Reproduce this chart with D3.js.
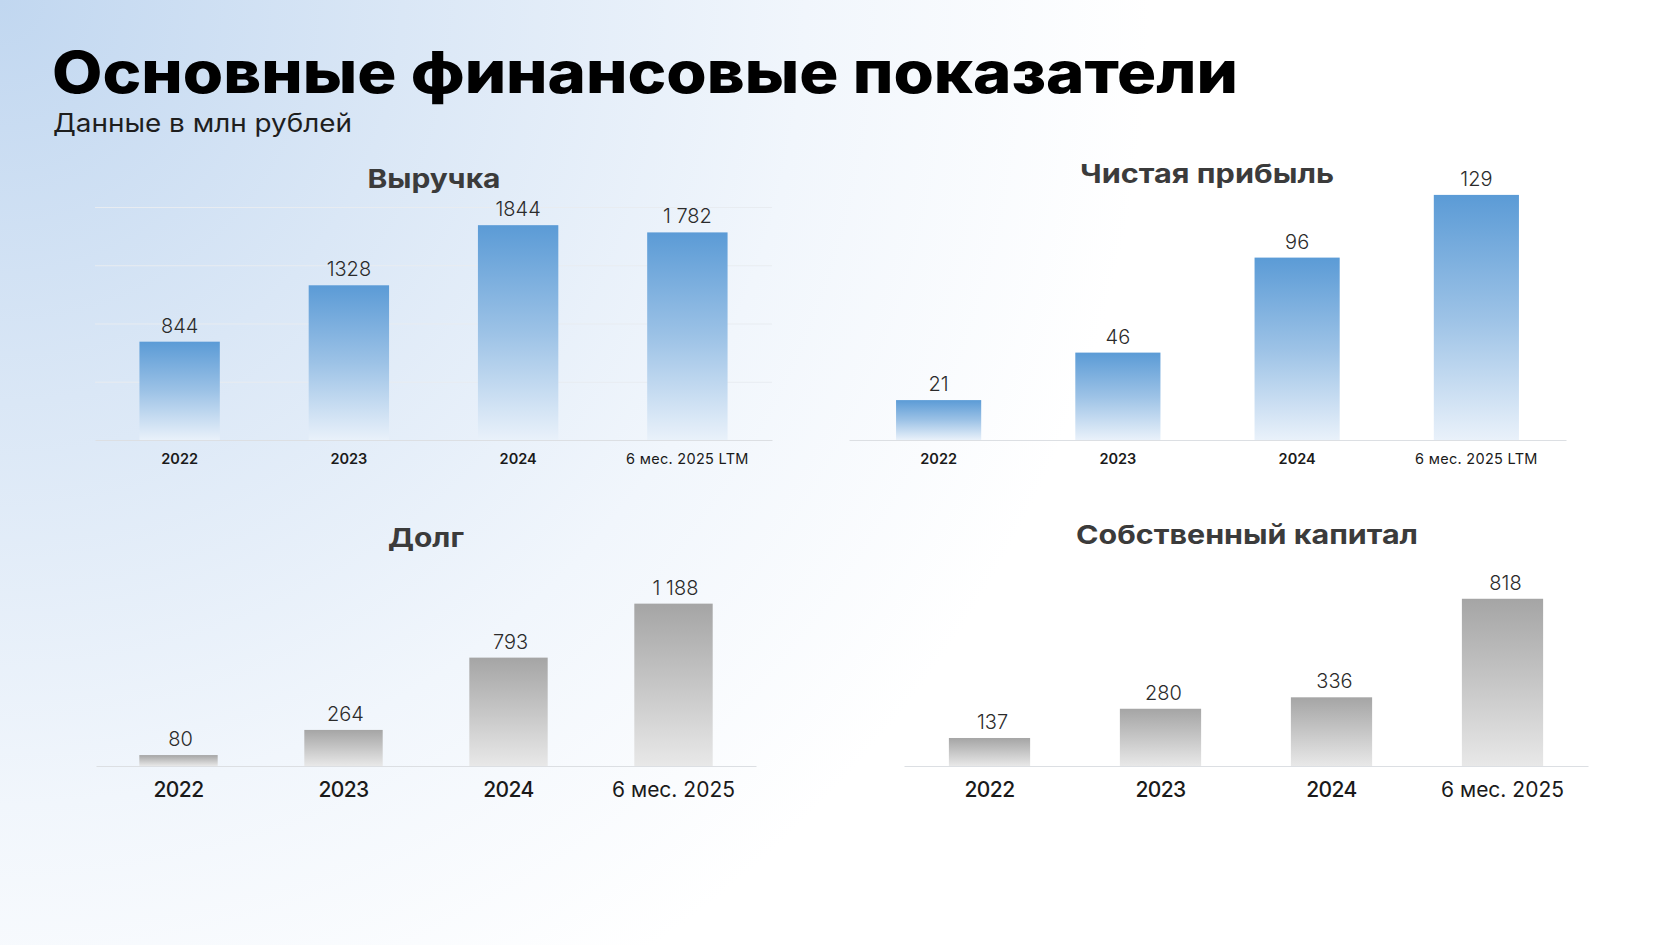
<!DOCTYPE html>
<html lang="ru">
<head>
<meta charset="utf-8">
<title>Основные финансовые показатели</title>
<script src="https://cdn.jsdelivr.net/npm/d3@7"></script>
<style>
  html, body { margin: 0; padding: 0; background: #fff; }
  svg { display: block; font-family: Inter, "Noto Sans", sans-serif; }
</style>
</head>
<body>
<div id="chart"></div>
<script>
// ==============================
// data (млн рублей)
// ==============================
var categoriesTop = ["2022", "2023", "2024", "6 мес. 2025 LTM"];
var categoriesBottom = ["2022", "2023", "2024", "6 мес. 2025"];

var revenue = [844, 1328, 1844, 1782];
var revenueLabels = ["844", "1328", "1844", "1 782"];

var netProfit = [21, 46, 96, 129];
var netProfitLabels = ["21", "46", "96", "129"];

var debt = [80, 264, 793, 1188];
var debtLabels = ["80", "264", "793", "1 188"];

var equity = [137, 280, 336, 818];
var equityLabels = ["137", "280", "336", "818"];

var revenueTicks = [0, 500, 1000, 1500, 2000];

// ==============================
// layout
// ==============================
var svgWidth = 1680;
var svgHeight = 945;

var svg = d3.select("#chart")
  .append("svg")
  .attr("width", svgWidth)
  .attr("height", svgHeight);

var defs = svg.append("defs");

// page background: light blue from the top-left corner
var bg = defs.append("radialGradient")
  .attr("id", "bg")
  .attr("gradientUnits", "userSpaceOnUse")
  .attr("cx", 0).attr("cy", 0).attr("r", 1150);
bg.append("stop").attr("offset", "0").attr("stop-color", "#c1d7f0");
bg.append("stop").attr("offset", "0.35").attr("stop-color", "#dae7f6");
bg.append("stop").attr("offset", "0.7").attr("stop-color", "#f1f6fc");
bg.append("stop").attr("offset", "1").attr("stop-color", "#ffffff");

function barGradient(id, top, mid, bottom) {
  var g = defs.append("linearGradient")
    .attr("id", id)
    .attr("x1", 0).attr("y1", 0).attr("x2", 0).attr("y2", 1);
  g.append("stop").attr("offset", "0").attr("stop-color", top);
  g.append("stop").attr("offset", "0.5").attr("stop-color", mid);
  g.append("stop").attr("offset", "1").attr("stop-color", bottom);
}
barGradient("blueBar", "#5b9bd6", "#9cc2e6", "#e9f1fa");
barGradient("greyBar", "#a5a5a5", "#c6c6c6", "#e8e8e8");

svg.append("rect")
  .attr("width", svgWidth)
  .attr("height", svgHeight)
  .attr("fill", "url(#bg)");

// heading
svg.append("text")
  .attr("x", 52)
  .attr("y", 93)
  .attr("font-size", 58)
  .attr("font-weight", 800)
  .attr("fill", "#000")
  .attr("textLength", 1186)
  .attr("lengthAdjust", "spacingAndGlyphs")
  .text("Основные финансовые показатели");

svg.append("text")
  .attr("x", 53)
  .attr("y", 132)
  .attr("font-size", 25)
  .attr("font-weight", 400)
  .attr("fill", "#1e1e1e")
  .attr("textLength", 299)
  .attr("lengthAdjust", "spacingAndGlyphs")
  .text("Данные в млн рублей");

// ==============================
// panels
// ==============================
var panels = [
  {
    title: "Выручка", titleX: 434, titleY: 188, titleW: 133,
    cats: categoriesTop, values: revenue, labels: revenueLabels,
    x0: 95, x1: 772, base: 440, domainMax: 2000, top: 207,
    fill: "url(#blueBar)", grid: revenueTicks, small: true, nudge: 0
  },
  {
    title: "Чистая прибыль", titleX: 1207, titleY: 183, titleW: 254,
    cats: categoriesTop, values: netProfit, labels: netProfitLabels,
    x0: 849, x1: 1566, base: 440, domainMax: 140, top: 174,
    fill: "url(#blueBar)", grid: null, small: true, nudge: 0
  },
  {
    title: "Долг", titleX: 426, titleY: 547, titleW: 76,
    cats: categoriesBottom, values: debt, labels: debtLabels,
    x0: 96, x1: 756, base: 766, domainMax: 1200, top: 602,
    fill: "url(#greyBar)", grid: null, small: false, nudge: 2
  },
  {
    title: "Собственный капитал", titleX: 1247, titleY: 544, titleW: 342,
    cats: categoriesBottom, values: equity, labels: equityLabels,
    x0: 904, x1: 1588, base: 766, domainMax: 900, top: 582,
    fill: "url(#greyBar)", grid: null, small: false, nudge: 3
  }
];

panels.forEach(function(p) {
  var g = svg.append("g");

  var xBand = d3.scaleBand()
    .domain(p.cats)
    .range([p.x0, p.x1])
    .paddingInner(0.525)
    .paddingOuter(0.2625);

  var yLinear = d3.scaleLinear()
    .domain([0, p.domainMax])
    .range([p.base, p.top]);

  // faint gridlines (revenue only)
  if (p.grid) {
    g.selectAll(".grid")
      .data(p.grid.slice(1))
      .enter()
      .append("line")
      .attr("x1", p.x0)
      .attr("x2", p.x1)
      .attr("y1", d => yLinear(d) + 0.5)
      .attr("y2", d => yLinear(d) + 0.5)
      .attr("stroke", "#e8ecf1")
      .attr("stroke-width", 1);
  }

  // bars
  g.selectAll(".bar")
    .data(p.values)
    .enter()
    .append("rect")
    .attr("x", (d, i) => xBand(p.cats[i]))
    .attr("y", d => yLinear(d))
    .attr("width", xBand.bandwidth())
    .attr("height", d => p.base - yLinear(d))
    .attr("fill", p.fill);

  // category axis
  var axis = g.append("g")
    .attr("transform", `translate(0, ${p.base})`)
    .call(d3.axisBottom(xBand)
      .tickSize(0)
      .tickPadding(p.small ? 14 : 16));

  axis.select(".domain")
    .attr("stroke", "#dcdfe3")
    .attr("stroke-width", 1.2);

  axis.selectAll("text")
    .attr("font-family", "Inter, 'Noto Sans', sans-serif")
    .attr("font-size", p.small ? 14.5 : 21)
    .attr("font-weight", (d, i) => p.small ? (i === 3 ? 400 : 600) : (i === 3 ? 400 : 500))
    .attr("letter-spacing", (d, i) => p.small ? (i === 3 ? 0.3 : 0) : (i === 3 ? 0 : -0.6))
    .attr("fill", "#1a1a1a");

  // value labels
  g.selectAll(".value")
    .data(p.values)
    .enter()
    .append("text")
    .attr("x", (d, i) => xBand(p.cats[i]) + xBand.bandwidth() / 2 + p.nudge)
    .attr("y", d => yLinear(d) - 9)
    .attr("text-anchor", "middle")
    .attr("font-size", 20)
    .attr("font-weight", 300)
    .attr("fill", "#2b2b2b")
    .text((d, i) => p.labels[i]);

  // panel title
  g.append("text")
    .attr("x", p.titleX)
    .attr("y", p.titleY)
    .attr("text-anchor", "middle")
    .attr("font-size", 26)
    .attr("font-weight", 700)
    .attr("fill", "#3b3b3b")
    .attr("textLength", p.titleW)
    .attr("lengthAdjust", "spacingAndGlyphs")
    .text(p.title);
});
</script>
</body>
</html>
